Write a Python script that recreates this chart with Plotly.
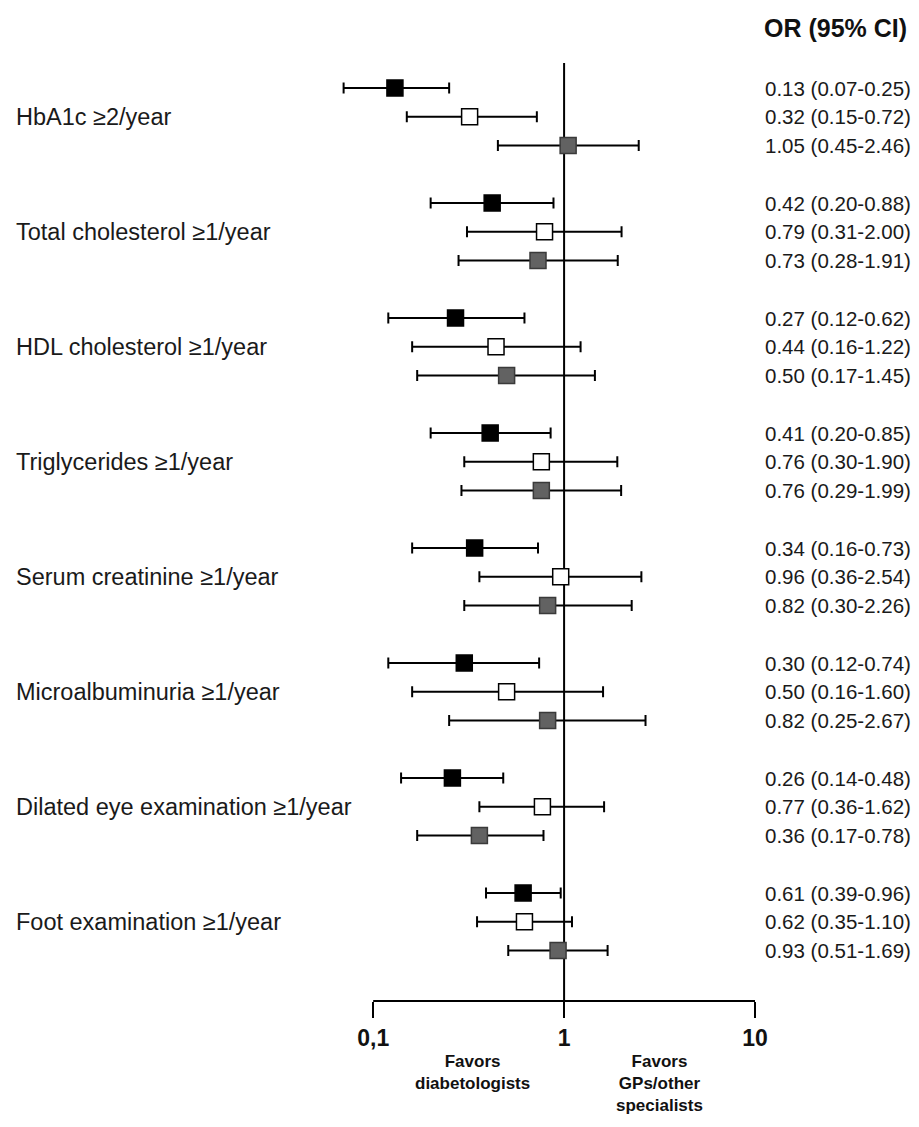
import plotly.graph_objects as go

# ---- data ----
measures = ["HbA1c ≥2/year", "Total cholesterol ≥1/year", "HDL cholesterol ≥1/year",
            "Triglycerides ≥1/year", "Serum creatinine ≥1/year", "Microalbuminuria ≥1/year",
            "Dilated eye examination ≥1/year", "Foot examination ≥1/year"]
black_or = [0.13, 0.42, 0.27, 0.41, 0.34, 0.30, 0.26, 0.61]
black_lo = [0.07, 0.20, 0.12, 0.20, 0.16, 0.12, 0.14, 0.39]
black_hi = [0.25, 0.88, 0.62, 0.85, 0.73, 0.74, 0.48, 0.96]
white_or = [0.32, 0.79, 0.44, 0.76, 0.96, 0.50, 0.77, 0.62]
white_lo = [0.15, 0.31, 0.16, 0.30, 0.36, 0.16, 0.36, 0.35]
white_hi = [0.72, 2.00, 1.22, 1.90, 2.54, 1.60, 1.62, 1.10]
gray_or = [1.05, 0.73, 0.50, 0.76, 0.82, 0.82, 0.36, 0.93]
gray_lo = [0.45, 0.28, 0.17, 0.29, 0.30, 0.25, 0.17, 0.51]
gray_hi = [2.46, 1.91, 1.45, 1.99, 2.26, 2.67, 0.78, 1.69]
tick_vals = [0.1, 1, 10]
tick_text = ["0,1", "1", "10"]
favor_left = "Favors<br>diabetologists"
favor_right = "Favors<br>GPs/other<br>specialists"

# ---- layout geometry (figure pixels; page body adds an 8px offset) ----
W, H = 903, 1111
DEC = 191.0                 # pixels per decade
X_LO = -1.2                 # log10 of left edge of plot area
PLOT_RIGHT = 747            # pixel of x = 10
L = PLOT_RIGHT - DEC * (1 - X_LO)
R = W - PLOT_RIGHT
T = 55
AX_Y = 993                  # pixel of the x axis line
B = H - AX_Y
PW = W - L - R
PH = H - T - B
ROW0, STEP = 80, 28.75      # pixel of first row, pixels per slot

FONT = "Arial, Liberation Sans, sans-serif"


def px_to_paper_x(px):
    return (px - L) / PW


def px_to_paper_y(py):
    return (H - B - py) / PH


y_top = (T - ROW0) / STEP
y_bot = (AX_Y - ROW0) / STEP

series = [
    ("Series 1", black_or, black_lo, black_hi, 0, "#000000", "#000000"),
    ("Series 2", white_or, white_lo, white_hi, 1, "#ffffff", "#000000"),
    ("Series 3", gray_or, gray_lo, gray_hi, 2, "#626262", "#3a3a3a"),
]

fig = go.Figure()
annotations = []
for name, orv, lo, hi, k, fill, edge in series:
    ys = [4 * g + k for g in range(len(orv))]
    fig.add_trace(go.Scatter(
        x=orv, y=ys, mode="markers", name=name, showlegend=False,
        cliponaxis=False,
        marker=dict(symbol="square", size=16, color=fill,
                    line=dict(color=edge, width=1.5)),
        error_x=dict(type="data", symmetric=False,
                     array=[h - o for h, o in zip(hi, orv)],
                     arrayminus=[o - l for o, l in zip(orv, lo)],
                     color="#000000", thickness=2, width=5.5),
    ))
    for g, (o, l, h) in enumerate(zip(orv, lo, hi)):
        annotations.append(dict(
            x=px_to_paper_x(755), xref="paper", xanchor="left",
            y=4 * g + k, yref="y", yanchor="middle",
            text=f"{o:.2f} ({l:.2f}-{h:.2f})", showarrow=False,
            font=dict(family=FONT, size=20.5, color="#1a1a1a")))

for g, m in enumerate(measures):
    annotations.append(dict(
        x=px_to_paper_x(6), xref="paper", xanchor="left",
        y=4 * g + 1, yref="y", yanchor="middle",
        text=m, showarrow=False,
        font=dict(family=FONT, size=23.5, color="#1a1a1a")))

annotations.append(dict(
    x=px_to_paper_x(754), xref="paper", xanchor="left",
    y=px_to_paper_y(20), yref="paper", yanchor="middle",
    text="<b>OR (95% CI)</b>", showarrow=False,
    font=dict(family=FONT, size=25, color="#111111")))

for txt, cx in [(favor_left, 464), (favor_right, 651)]:
    annotations.append(dict(
        x=px_to_paper_x(cx), xref="paper", xanchor="center",
        y=px_to_paper_y(1042), yref="paper", yanchor="top",
        text=f"<b>{txt}</b>", showarrow=False, align="center",
        font=dict(family=FONT, size=17, color="#111111")))

shapes = [
    # reference line at OR = 1
    dict(type="line", xref="x", yref="paper", x0=1, x1=1, y0=0, y1=1,
         line=dict(color="#000000", width=2), layer="below"),
    # x axis baseline from 0.1 to 10
    dict(type="line", xref="x", yref="paper", x0=tick_vals[0], x1=tick_vals[-1],
         y0=0, y1=0, line=dict(color="#000000", width=2), layer="above"),
]

fig.update_layout(
    width=W, height=H,
    margin=dict(l=L, r=R, t=T, b=B, pad=0),
    paper_bgcolor="white", plot_bgcolor="white",
    annotations=annotations,
    shapes=shapes,
    xaxis=dict(type="log", range=[X_LO, 1], showgrid=False, zeroline=False,
               showline=False,
               ticks="outside", ticklen=16, tickwidth=2, tickcolor="#000000",
               tickvals=tick_vals, ticktext=tick_text, ticklabelstandoff=0,
               tickfont=dict(family=FONT, size=23, color="#111111",
                             weight="bold")),
    yaxis=dict(range=[y_bot, y_top], visible=False, showgrid=False,
               zeroline=False),
    font=dict(family=FONT),
)

fig.write_html("out.html")
